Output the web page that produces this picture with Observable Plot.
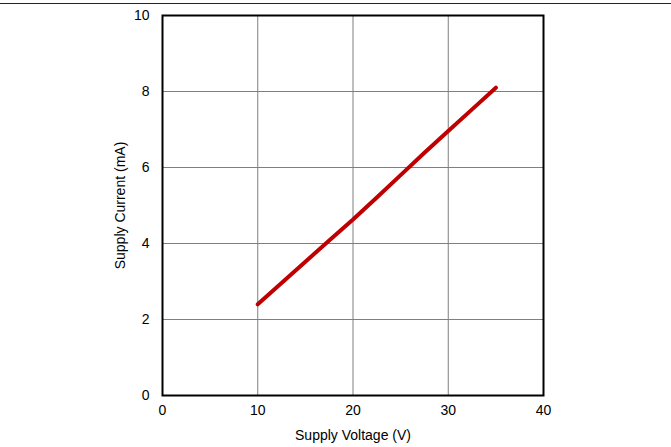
<!DOCTYPE html>
<html>
<head>
<meta charset="utf-8">
<script src="https://cdn.jsdelivr.net/npm/d3@7"></script>
<script src="https://cdn.jsdelivr.net/npm/@observablehq/plot@0.6"></script>
<style>
  html, body { margin: 0; padding: 0; background: #fff; }
  #wrap { position: relative; width: 671px; height: 447px; }
  #topline { position: absolute; left: 0; top: 3px; width: 671px; height: 0; border-top: 1px solid #222; }
  #chart svg { display: block; }
</style>
</head>
<body>
<div id="wrap">
  <div id="topline"></div>
  <div id="chart"></div>
</div>
<script>
const voltage = [10, 12.5, 15, 17.5, 20, 22.5, 25, 27.5, 30, 32.5, 35];
const current = [2.4, 2.96, 3.52, 4.08, 4.63, 5.21, 5.8, 6.39, 6.96, 7.53, 8.1];
const xTicks = [0, 10, 20, 30, 40];
const yTicks = [0, 2, 4, 6, 8, 10];
const xLabel = "Supply Voltage (V)";
const yLabel = "Supply Current (mA)";

const data = voltage.map((v, i) => ({v, c: current[i]}));

const chart = Plot.plot({
  width: 671,
  height: 447,
  marginLeft: 162,
  marginRight: 128,
  marginTop: 15,
  marginBottom: 52,
  style: {fontFamily: "'Liberation Sans', Arial, sans-serif", fontSize: "14px", color: "#000", background: "#fff"},
  x: {domain: [0, 40]},
  y: {domain: [0, 10]},
  marks: [
    Plot.gridX(xTicks.slice(1, -1), {stroke: "#7f7f7f", strokeOpacity: 1, strokeWidth: 1}),
    Plot.gridY(yTicks.slice(1, -1), {stroke: "#7f7f7f", strokeOpacity: 1, strokeWidth: 1}),
    Plot.frame({stroke: "#000", strokeWidth: 2}),
    Plot.axisX(xTicks, {tickSize: 0, tickPadding: 10, label: null, fontSize: 14, fill: "#000"}),
    Plot.axisY(yTicks, {tickSize: 0, tickPadding: 13, label: null, fontSize: 14, fill: "#000"}),
    Plot.text([xLabel], {frameAnchor: "bottom", dy: 40, fontSize: 14, fill: "#000", lineAnchor: "middle"}),
    Plot.text([yLabel], {frameAnchor: "left", dx: -42, rotate: -90, textAnchor: "middle", fontSize: 14, fill: "#000"}),
    Plot.line(data, {x: "v", y: "c", stroke: "#c00000", strokeWidth: 4, strokeLinecap: "round", strokeLinejoin: "round", curve: "linear"})
  ]
});
document.getElementById("chart").appendChild(chart);
</script>
</body>
</html>
